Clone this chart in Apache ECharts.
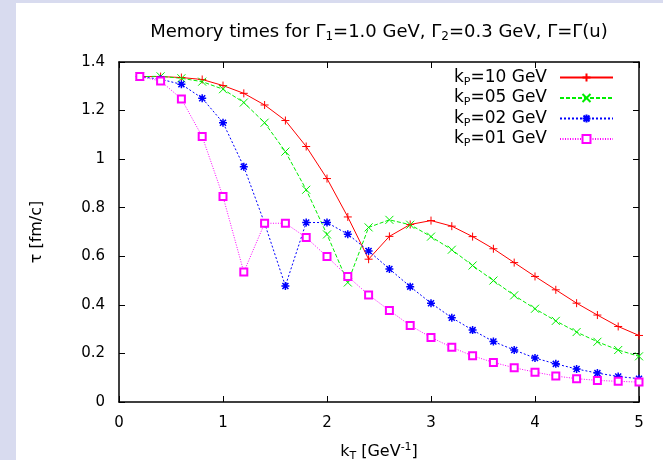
<!DOCTYPE html>
<html style="height: 100%">

<head>
    <meta charset="utf-8">
    <title>memory times</title>
    <script type="text/javascript" src="https://cdn.jsdelivr.net/npm/echarts@6/dist/echarts.min.js"></script>
    <style>
        html,
        body {
            margin: 0;
            padding: 0;
            height: 100%;
            background-color: #ffffff;
        }
        
        #main {
            width: 663px;
            height: 460px;
        }
    </style>
</head>

<body>
    <div id="main"></div>
    <script type="text/javascript">
        // kT [GeV^-1]
        var kT = [0.2, 0.4, 0.6, 0.8, 1.0, 1.2, 1.4, 1.6, 1.8, 2.0, 2.2, 2.4, 2.6,
            2.8, 3.0, 3.2, 3.4, 3.6, 3.8, 4.0, 4.2, 4.4, 4.6, 4.8, 5.0
        ];

        // tau [fm/c] for each kP
        var tau10 = [1.340, 1.340, 1.336, 1.328, 1.303, 1.271, 1.223, 1.159, 1.052, 0.920, 0.762, 0.588, 0.682,
            0.731, 0.747, 0.724, 0.681, 0.631, 0.574, 0.517, 0.462, 0.407, 0.358, 0.311, 0.274
        ];
        var tau05 = [1.340, 1.341, 1.333, 1.319, 1.288, 1.233, 1.150, 1.031, 0.874, 0.690, 0.492, 0.719, 0.750,
            0.730, 0.681, 0.627, 0.562, 0.500, 0.439, 0.384, 0.334, 0.288, 0.248, 0.214, 0.188
        ];
        var tau02 = [1.340, 1.329, 1.308, 1.251, 1.150, 0.969, 0.736, 0.478, 0.739, 0.739, 0.691, 0.622, 0.548,
            0.475, 0.407, 0.347, 0.296, 0.249, 0.214, 0.181, 0.157, 0.136, 0.119, 0.105, 0.096
        ];
        var tau01 = [1.340, 1.322, 1.248, 1.093, 0.846, 0.535, 0.736, 0.736, 0.677, 0.599, 0.517, 0.441, 0.377,
            0.315, 0.266, 0.225, 0.190, 0.163, 0.141, 0.123, 0.107, 0.096, 0.089, 0.085, 0.082
        ];

        var names = ['kP=10 GeV', 'kP=05 GeV', 'kP=02 GeV', 'kP=01 GeV'];
        var colors = ['#ff0000', '#00ee00', '#0000ff', '#ff00ff'];
        var xTicks = [0, 5, 1];
        var yTicks = [0, 1.4, 0.2];

        var font = 'DejaVu Sans';

        var plus = 'path://M0,4L8,4M4,0L4,8';
        var cross = 'path://M0,0L8,8M0,8L8,0';
        var star = 'path://M0,4L8,4M4,0L4,8M1,1L7,7M1,7L7,1';

        function pairs(ys) {
            return kT.map(function(x, i) {
                return [x, ys[i]];
            });
        }

        var dom = document.getElementById('main');
        var chart = echarts.init(dom, null, {
            renderer: 'canvas'
        });

        function axisX(pos, show) {
            return {
                type: 'value',
                position: pos,
                min: xTicks[0],
                max: xTicks[1],
                interval: xTicks[2],
                axisLine: {
                    onZero: false,
                    lineStyle: {
                        color: '#000',
                        width: 1.5
                    }
                },
                axisTick: {
                    inside: true,
                    length: 6,
                    lineStyle: {
                        color: '#000',
                        width: 1
                    }
                },
                axisLabel: {
                    show: show,
                    color: '#000',
                    fontFamily: font,
                    fontSize: 15,
                    margin: 14
                },
                splitLine: {
                    show: false
                }
            };
        }

        function axisY(pos, show) {
            return {
                type: 'value',
                position: pos,
                min: yTicks[0],
                max: yTicks[1],
                interval: yTicks[2],
                axisLine: {
                    onZero: false,
                    lineStyle: {
                        color: '#000',
                        width: 1.5
                    }
                },
                axisTick: {
                    inside: true,
                    length: 6,
                    lineStyle: {
                        color: '#000',
                        width: 1
                    }
                },
                axisLabel: {
                    show: show,
                    color: '#000',
                    fontFamily: font,
                    fontSize: 15,
                    margin: 14
                },
                splitLine: {
                    show: false
                }
            };
        }

        var xBottom = axisX('bottom', true);
        xBottom.name = '{n|k}{s|T}{n| [GeV}{p|-1}{n|]}';
        xBottom.nameLocation = 'middle';
        xBottom.nameGap = 40;
        xBottom.nameTextStyle = {
            rich: {
                n: { fontFamily: font, fontSize: 16, color: '#000', lineHeight: 20 },
                s: { fontFamily: font, fontSize: 11, color: '#000', lineHeight: 10, verticalAlign: 'bottom' },
                p: { fontFamily: font, fontSize: 11, color: '#000', lineHeight: 10, verticalAlign: 'top' }
            }
        };

        var yLeft = axisY('left', true);
        yLeft.name = '{n|τ [fm/c]}';
        yLeft.nameLocation = 'middle';
        yLeft.nameGap = 72;
        yLeft.nameTextStyle = {
            rich: {
                n: { fontFamily: font, fontSize: 16, color: '#000', lineHeight: 20 }
            }
        };

        var symbols = [plus, cross, star, 'emptyRect'];
        var sizes = [8, 8, 8, 7];
        var dashes = ['solid', [4, 2], [2, 2], [1, 1.5]];
        var values = [tau10, tau05, tau02, tau01];

        var series = names.map(function(nm, i) {
            return {
                name: nm,
                type: 'line',
                data: pairs(values[i]),
                symbol: symbols[i],
                symbolSize: sizes[i],
                showAllSymbol: true,
                animation: false,
                lineStyle: {
                    color: colors[i],
                    width: 1,
                    type: dashes[i]
                },
                itemStyle: {
                    color: colors[i],
                    borderColor: colors[i],
                    borderWidth: i == 2 ? 1.5 : 1
                }
            };
        });

        var option = {
            backgroundColor: '#ffffff',
            animation: false,
            title: {
                text: '{n|Memory times for Γ}{s|1}{n|=1.0 GeV, Γ}{s|2}{n|=0.3 GeV, Γ=Γ(u)}',
                left: 379,
                top: 21,
                textAlign: 'center',
                padding: 0,
                textStyle: {
                    rich: {
                        n: { fontFamily: font, fontSize: 18, fontWeight: 'normal', color: '#000', lineHeight: 22 },
                        s: { fontFamily: font, fontSize: 12, fontWeight: 'normal', color: '#000', lineHeight: 10, verticalAlign: 'bottom' }
                    }
                }
            },
            legend: {
                orient: 'vertical',
                right: 49,
                top: 69,
                padding: 0,
                itemGap: 2,
                itemWidth: 53,
                itemHeight: 10,
                align: 'right',
                data: names,
                formatter: function(name) {
                    return '{n|k}{s|P}{n|' + name.slice(2) + '}{g|}';
                },
                textStyle: {
                    rich: {
                        n: { fontFamily: font, fontSize: 17, color: '#000', lineHeight: 20 },
                        s: { fontFamily: font, fontSize: 11, color: '#000', lineHeight: 10, verticalAlign: 'bottom' },
                        g: { width: 8 }
                    }
                }
            },
            grid: {
                left: 119,
                right: 24,
                top: 62,
                bottom: 58,
                outerBoundsMode: 'none'
            },
            xAxis: [xBottom, axisX('top', false)],
            yAxis: [yLeft, axisY('right', false)],
            graphic: [{
                type: 'rect',
                left: 0,
                top: 0,
                shape: { width: 16, height: 460 },
                style: { fill: '#d8dbef' },
                silent: true
            }, {
                type: 'rect',
                left: 0,
                top: 0,
                shape: { width: 663, height: 3 },
                style: { fill: '#d8dbef' },
                silent: true
            }],
            series: series
        };

        chart.setOption(option);
    </script>
</body>

</html>
